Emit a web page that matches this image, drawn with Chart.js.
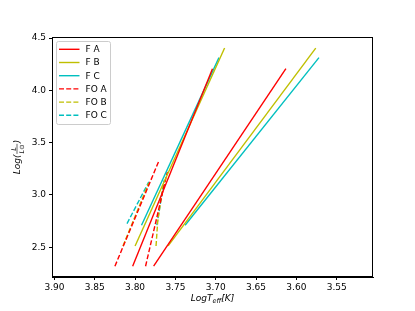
<!DOCTYPE html>
<html>
<head>
<meta charset="utf-8">
<script src="https://cdn.jsdelivr.net/npm/chart.js@4.4.0/dist/chart.umd.min.js"></script>
<style>
  html, body { margin: 0; padding: 0; background: #fff; }
  canvas { display: block; }
</style>
</head>
<body>
<canvas id="hr" width="415" height="311"></canvas>
<script>
// ticks
const xTicks = [3.90, 3.85, 3.80, 3.75, 3.70, 3.65, 3.60, 3.55];
const yTicks = [2.5, 3.0, 3.5, 4.0, 4.5];

// series: each one is a list of segments, each segment a list of [logTeff, logL]
const seriesNames = ['F A', 'F B', 'F C', 'FO A', 'FO B', 'FO C'];
const fA = [[[3.803, 2.318], [3.704, 4.207]], [[3.777, 2.318], [3.613, 4.207]]];
const fB = [[[3.800, 2.512], [3.689, 4.404]], [[3.759, 2.512], [3.576, 4.404]]];
const fC = [[[3.792, 2.710], [3.696, 4.313]], [[3.738, 2.710], [3.572, 4.313]]];
const foA = [[[3.825, 2.318], [3.771, 3.315]], [[3.787, 2.318], [3.760, 3.220]]];
const foB = [[[3.815, 2.512], [3.783, 3.115]], [[3.774, 2.512], [3.772, 2.739], [3.769, 2.901], [3.765, 3.092]]];
const foC = [[[3.810, 2.726], [3.783, 3.124]], [[3.773, 2.710], [3.769, 2.900], [3.764, 3.140]]];

const allSeries = [fA, fB, fC, foA, foB, foC];
const colors = ['#ff0000', '#bfbf00', '#00bfbf', '#ff0000', '#bfbf00', '#00bfbf'];
const dashed = [false, false, false, true, true, true];
const DASH = [5, 2.2];
const FONT = '"DejaVu Sans", sans-serif';

const datasets = [];
allSeries.forEach((segs, i) => {
    segs.forEach(seg => {
        datasets.push({
            label: seriesNames[i],
            data: seg.map(p => ({ x: p[0], y: p[1] })),
            borderColor: colors[i],
            borderWidth: 1.4,
            borderDash: dashed[i] ? DASH : [],
            pointRadius: 0,
            fill: false,
            tension: 0
        });
    });
});

// frame, legend and axis titles drawn like matplotlib
const decor = {
    id: 'decor',
    afterDraw(chart) {
        const ctx = chart.ctx;
        const a = chart.chartArea;
        ctx.save();
        ctx.strokeStyle = '#000';
        ctx.lineWidth = 1;
        ctx.setLineDash([]);
        ctx.strokeRect(Math.round(a.left) + 0.5, Math.round(a.top) + 0.5,
            Math.round(a.right - a.left) - 1, Math.round(a.bottom - a.top) - 1);

        // legend
        const lx = 56.5, ly = 41.5, lw = 54, lh = 83;
        ctx.fillStyle = 'rgba(255,255,255,0.8)';
        ctx.strokeStyle = '#cccccc';
        ctx.beginPath();
        ctx.roundRect(lx, ly, lw, lh, 2);
        ctx.fill();
        ctx.stroke();
        ctx.font = '9px ' + FONT;
        ctx.textBaseline = 'middle';
        ctx.textAlign = 'left';
        seriesNames.forEach((name, i) => {
            const y = 49.3 + i * 13.2;
            ctx.strokeStyle = colors[i];
            ctx.lineWidth = 1.4;
            ctx.setLineDash(dashed[i] ? DASH : []);
            ctx.beginPath();
            ctx.moveTo(59, y);
            ctx.lineTo(79.5, y);
            ctx.stroke();
            ctx.fillStyle = '#000';
            ctx.fillText(name, 85.5, y + 0.5);
        });
        ctx.setLineDash([]);

        // x title: LogT_eff[K]
        ctx.fillStyle = '#000';
        ctx.textBaseline = 'alphabetic';
        const big = 'italic 9px ' + FONT, small = 'italic 6.5px ' + FONT;
        ctx.font = big;
        const w1 = ctx.measureText('LogT').width;
        const w3 = ctx.measureText('[K]').width;
        ctx.font = small;
        const w2 = ctx.measureText('eff').width;
        let x = (a.left + a.right) / 2 - (w1 + w2 + w3) / 2;
        const by = 301;
        ctx.font = big; ctx.fillText('LogT', x, by); x += w1;
        ctx.font = small; ctx.fillText('eff', x, by + 2); x += w2;
        ctx.font = big; ctx.fillText('[K]', x, by);

        // y title: Log(L / L_sun)
        ctx.translate(20, (a.top + a.bottom) / 2);
        ctx.rotate(-Math.PI / 2);
        ctx.font = big;
        const p1 = ctx.measureText('Log(').width;
        const p3 = ctx.measureText(')').width;
        ctx.font = small;
        const fw = ctx.measureText('L\u2299').width;
        let yx = -(p1 + fw + p3 + 2) / 2;
        ctx.font = big; ctx.fillText('Log(', yx, 0); yx += p1;
        ctx.font = small;
        ctx.textAlign = 'center';
        ctx.fillText('L', yx + fw / 2 + 1, -4.5);
        ctx.fillText('L\u2299', yx + fw / 2 + 1, 4);
        ctx.lineWidth = 0.6;
        ctx.strokeStyle = '#000';
        ctx.beginPath();
        ctx.moveTo(yx + 0.5, -3);
        ctx.lineTo(yx + fw + 1.5, -3);
        ctx.stroke();
        ctx.textAlign = 'left';
        yx += fw + 2;
        ctx.font = big; ctx.fillText(')', yx, 0);
        ctx.restore();
    }
};

new Chart(document.getElementById('hr'), {
    type: 'line',
    data: { datasets },
    options: {
        responsive: false,
        animation: false,
        devicePixelRatio: 1,
        layout: { padding: { top: 37, right: 42, left: 0, bottom: 0 } },
        plugins: { legend: { display: false }, tooltip: { enabled: false } },
        scales: {
            x: {
                type: 'linear',
                reverse: true,
                min: 3.505,
                max: 3.903,
                afterBuildTicks: s => { s.ticks = xTicks.map(v => ({ value: v })); },
                afterFit: s => { s.height = 34; },
                ticks: {
                    callback: v => Number(v).toFixed(2),
                    color: '#000',
                    font: { family: FONT, size: 9 },
                    padding: 2,
                    maxRotation: 0,
                    autoSkip: false
                },
                grid: { drawOnChartArea: false, tickLength: 3, color: '#000' },
                border: { color: '#000', width: 1 }
            },
            y: {
                type: 'linear',
                min: 2.215,
                max: 4.51,
                afterBuildTicks: s => { s.ticks = yTicks.map(v => ({ value: v })); },
                afterFit: s => { s.width = 52; },
                ticks: {
                    callback: v => Number(v).toFixed(1),
                    color: '#000',
                    font: { family: FONT, size: 9 },
                    padding: 3,
                    autoSkip: false
                },
                grid: { drawOnChartArea: false, tickLength: 3, color: '#000' },
                border: { color: '#000', width: 1 }
            }
        }
    },
    plugins: [decor]
});
</script>
</body>
</html>
